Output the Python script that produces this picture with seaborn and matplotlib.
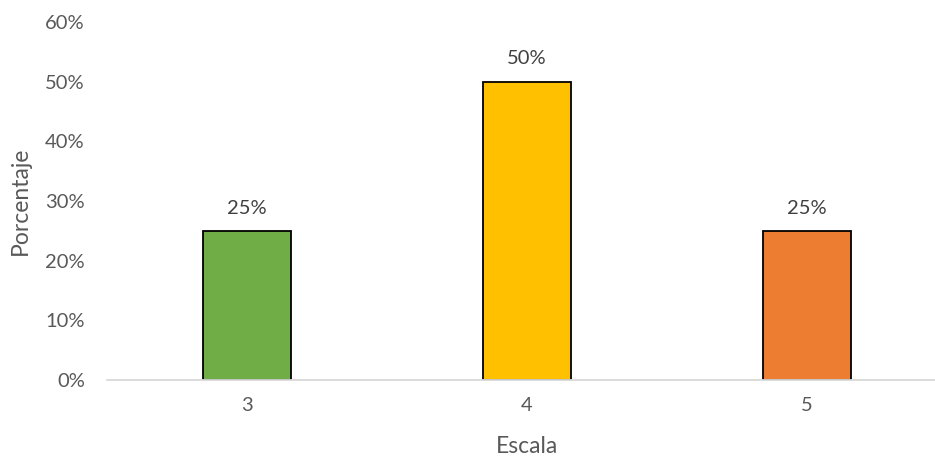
import matplotlib
matplotlib.use("Agg")
import matplotlib.pyplot as plt
import seaborn as sns
import pandas as pd
from matplotlib.ticker import PercentFormatter

# Distribución de respuestas por escala
escala = ["3", "4", "5"]
porcentaje = [25, 50, 25]
colores = ["#70AD47", "#FFC000", "#ED7D31"]
yticks = [0, 10, 20, 30, 40, 50, 60]

sns.set_theme(style="white")
plt.rcParams["font.family"] = ["Lato", "DejaVu Sans"]

df = pd.DataFrame({"Escala": escala, "Porcentaje": porcentaje})

fig = plt.figure(figsize=(9.35, 4.59), dpi=100)
ax = fig.add_axes([107 / 935, 79 / 459, 840 / 935, 358 / 459])

sns.barplot(data=df, x="Escala", y="Porcentaje", hue="Escala", palette=colores,
            width=0.314, edgecolor="black", linewidth=1.3, legend=False, ax=ax,
            saturation=1)

ax.set_xlim(-0.5, 2.5)
ax.set_ylim(0, 60)
ax.set_yticks(yticks)
ax.yaxis.set_major_formatter(PercentFormatter(decimals=0))

for i, v in enumerate(porcentaje):
    ax.text(i, v + 2.4, f"{v}%", ha="center", va="bottom", fontsize=14.5, color="#404040")

for side in ["top", "right", "left"]:
    ax.spines[side].set_visible(False)
ax.spines["bottom"].set_color("#D9D9D9")
ax.spines["bottom"].set_linewidth(1.3)

ax.tick_params(axis="both", length=0, labelsize=14.5, labelcolor="#595959")
ax.tick_params(axis="x", pad=12)
ax.tick_params(axis="y", pad=16)

ax.set_xlabel("Escala", fontsize=16.5, color="#595959", labelpad=16)
ax.set_ylabel("Porcentaje", fontsize=16.5, color="#595959")
ax.yaxis.set_label_coords(-0.0905, 0.5)

fig.savefig("out.png", dpi=100)
